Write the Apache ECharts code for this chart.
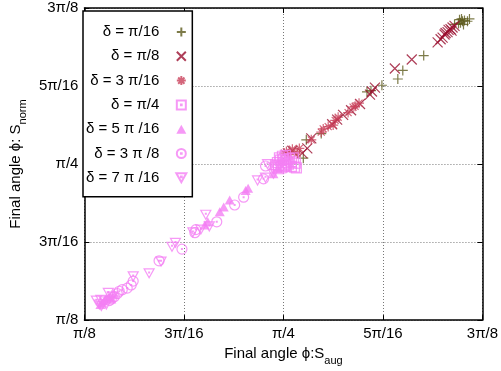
<!DOCTYPE html>
<html>
<head>
<meta charset="utf-8">
<script src="https://cdn.jsdelivr.net/npm/echarts@6/dist/echarts.min.js"></script>
<style>html,body{margin:0;padding:0;background:#fff}#c{width:501px;height:371px}</style>
</head>
<body>
<div id="c"></div>
<script>
// Values in units of pi/16
const tickValues = [2, 3, 4, 5, 6];
const tickLabels = ['π/8', '3π/16', 'π/4', '5π/16', '3π/8'];
const seriesNames = ['δ = π/16', 'δ = π/8', 'δ = 3 π/16', 'δ = π/4', 'δ = 5 π /16', 'δ = 3 π /8', 'δ = 7 π /16'];

const d1 = [[5.80,5.83],[5.78,5.81],[5.82,5.84],[5.76,5.80],[5.79,5.86],[5.85,5.83],[5.81,5.79],[5.77,5.85],[5.72,5.79],[5.87,5.86],
  [5.41,5.39],[5.20,5.20],[5.15,5.09],[4.99,5.01],[4.88,4.94],[4.84,4.925],[4.38,4.39],[4.23,4.31],[4.20,4.075]];
const d2 = [[5.65,5.69],[5.68,5.73],[5.70,5.75],[5.62,5.66],[5.60,5.62],[5.66,5.72],[5.72,5.77],[5.58,5.60],[5.55,5.56],[5.63,5.68],[5.69,5.71],
  [5.29,5.34],[5.12,5.225],[4.92,4.98],[4.89,4.93],[4.87,4.89],[4.77,4.77],[4.68,4.69],[4.60,4.63],[4.54,4.57],[4.49,4.51],
  [4.28,4.33],[4.24,4.20],[4.19,4.14],[4.09,4.17]];
const d3 = [[4.76,4.78],[4.70,4.73],[4.65,4.66],[4.72,4.74],[4.52,4.56],[4.50,4.50],[4.40,4.45],[4.38,4.41],[4.28,4.31],[4.16,4.20],
  [4.09,4.19],[4.03,4.16],[4.01,4.14],[4.14,4.14],[4.06,4.12],[4.45,4.48],[4.55,4.60]];
const d4 = [[3.93,3.96],[3.95,3.98],[3.98,3.97],[4.00,4.00],[4.02,3.98],[4.05,4.00],[4.08,3.97],[4.11,3.96],[4.13,3.95],[3.94,4.02],
  [3.97,4.05],[4.00,4.06],[4.03,4.05],[4.06,4.07],[4.10,4.08],[3.96,4.08],[3.99,4.10],[4.02,4.11],[3.92,3.99],[4.04,4.02],
  [4.08,4.03],[4.12,4.01],[3.95,3.94]];
const d5 = [[3.645,3.69],[3.62,3.66],[3.46,3.54],[3.40,3.45],[3.36,3.39],[3.24,3.26],[3.21,3.22],[3.90,3.875],[3.94,3.94],[3.985,4.04],
  [2.20,2.25],[2.25,2.30],[2.18,2.22],[2.30,2.33],[2.22,2.28],[2.16,2.20],[2.27,2.27]];
const d6 = [[3.82,3.975],[3.80,3.81],[3.60,3.575],[3.51,3.475],[3.33,3.26],[3.12,3.16],[3.11,3.12],[2.98,2.91],[2.75,2.76],[2.49,2.50],
  [2.47,2.45],[2.43,2.41],[2.38,2.39],[4.01,3.95],[2.30,2.30],[2.33,2.34],[2.27,2.27],[2.25,2.25],[2.35,2.37]];
const d7 = [[2.165,2.26],[2.24,2.35],[2.49,2.56],[2.65,2.60],[2.77,2.75],[2.88,2.94],[2.915,2.99],[3.09,3.125],[3.17,3.16],[3.255,3.20],
  [3.22,3.35],[3.74,3.79],[3.82,3.825],[3.90,3.875],[3.84,4.00],[2.15,2.20],[2.20,2.24],[2.17,2.18],[2.28,2.30],[2.12,2.25],[2.22,2.20]];

const colors = ['#5c5a1c', '#9a0e2e', '#c9405a', '#f47ff4', '#f47ff4', '#f47ff4', '#f47ff4'];
const symbols = [
  'path://M5,0V10M0,5H10',
  'path://M0,0L10,10M10,0L0,10',
  'path://M5,0V10M0,5H10M1.5,1.5L8.5,8.5M8.5,1.5L1.5,8.5',
  'path://M0,0H10V10H0ZM4.6,4.6H5.4V5.4H4.6Z',
  'path://M5,0L10,9L0,9Z',
  'path://M10,5A5,5,0,1,1,0,5A5,5,0,1,1,10,5ZM4.6,4.6H5.4V5.4H4.6Z',
  'path://M0,0L10,0L5,9ZM4.6,3.2H5.4V4H4.6Z'
];
const datasets = [d1, d2, d3, d4, d5, d6, d7];
const font = 'Liberation Sans, Arial, sans-serif';

const series = datasets.map((d, i) => ({
  name: seriesNames[i],
  type: 'scatter',
  data: d,
  symbol: symbols[i],
  symbolSize: 10,
  symbolKeepAspect: true,
  itemStyle: i === 4 ? {color: colors[i]} : {color: 'rgba(0,0,0,0)', borderColor: colors[i], borderWidth: 1.2},
  xAxisIndex: 0, yAxisIndex: 0
}));

function fmt(v) { const k = tickValues.indexOf(Math.round(v)); return k >= 0 ? tickLabels[k] : ''; }

const chart = echarts.init(document.getElementById('c'), null, {renderer: 'canvas'});
const axisCommon = {
  min: 2, max: 6, interval: 1,
  axisLine: {show: true, lineStyle: {color: '#000', width: 1.5}},
  axisTick: {show: true, inside: true, length: 5, lineStyle: {color: '#000', width: 1}},
};
chart.setOption({
  animation: false,
  textStyle: {fontFamily: font},
  grid: {left: 78, right: 12, top: 8, bottom: 43, containLabel: false},
  legend: {
    orient: 'vertical', left: 83, top: 11, align: 'right',
    backgroundColor: '#fff', borderColor: '#000', borderWidth: 1.5, borderRadius: 0,
    padding: [13, 5, 11, 3],
    itemWidth: 34, itemHeight: 9, itemGap: 8.3,
    textStyle: {fontFamily: font, fontSize: 15, color: '#000', width: 67, align: 'right', lineHeight: 16, overflow: 'none'},
    data: seriesNames
  },
  xAxis: [
    Object.assign({}, axisCommon, {type: 'value', position: 'bottom',
      axisLabel: {formatter: fmt, fontSize: 15, color: '#000', margin: 6},
      splitLine: {show: true, lineStyle: {color: '#777', type: [1, 2], width: 1}},
      name: '{m|Final angle ϕ:S}{s|aug}', nameLocation: 'middle', nameGap: 20,
      nameTextStyle: {rich: {m: {fontSize: 15, fontFamily: font, color: '#000', lineHeight: 17, verticalAlign: 'top'},
                             s: {fontSize: 11, fontFamily: font, color: '#000', lineHeight: 12, padding: [9, 0, 0, 0], verticalAlign: 'top'}}}
    }),
    Object.assign({}, axisCommon, {type: 'value', position: 'top', axisLabel: {show: false}, splitLine: {show: false}})
  ],
  yAxis: [
    Object.assign({}, axisCommon, {type: 'value', position: 'left',
      axisLabel: {formatter: fmt, fontSize: 15, color: '#000', margin: 6},
      splitLine: {show: true, lineStyle: {color: '#777', type: [1, 2], width: 1}},
      name: '{m|Final angle ϕ: S}{s|norm}', nameLocation: 'middle', nameGap: 48, nameRotate: 90,
      nameTextStyle: {rich: {m: {fontSize: 15, fontFamily: font, color: '#000', lineHeight: 17, verticalAlign: 'top'},
                             s: {fontSize: 11, fontFamily: font, color: '#000', lineHeight: 12, padding: [9, 0, 0, 0], verticalAlign: 'top'}}}
    }),
    Object.assign({}, axisCommon, {type: 'value', position: 'right', axisLabel: {show: false}, splitLine: {show: false}})
  ],
  series: series
});
</script>
</body>
</html>
